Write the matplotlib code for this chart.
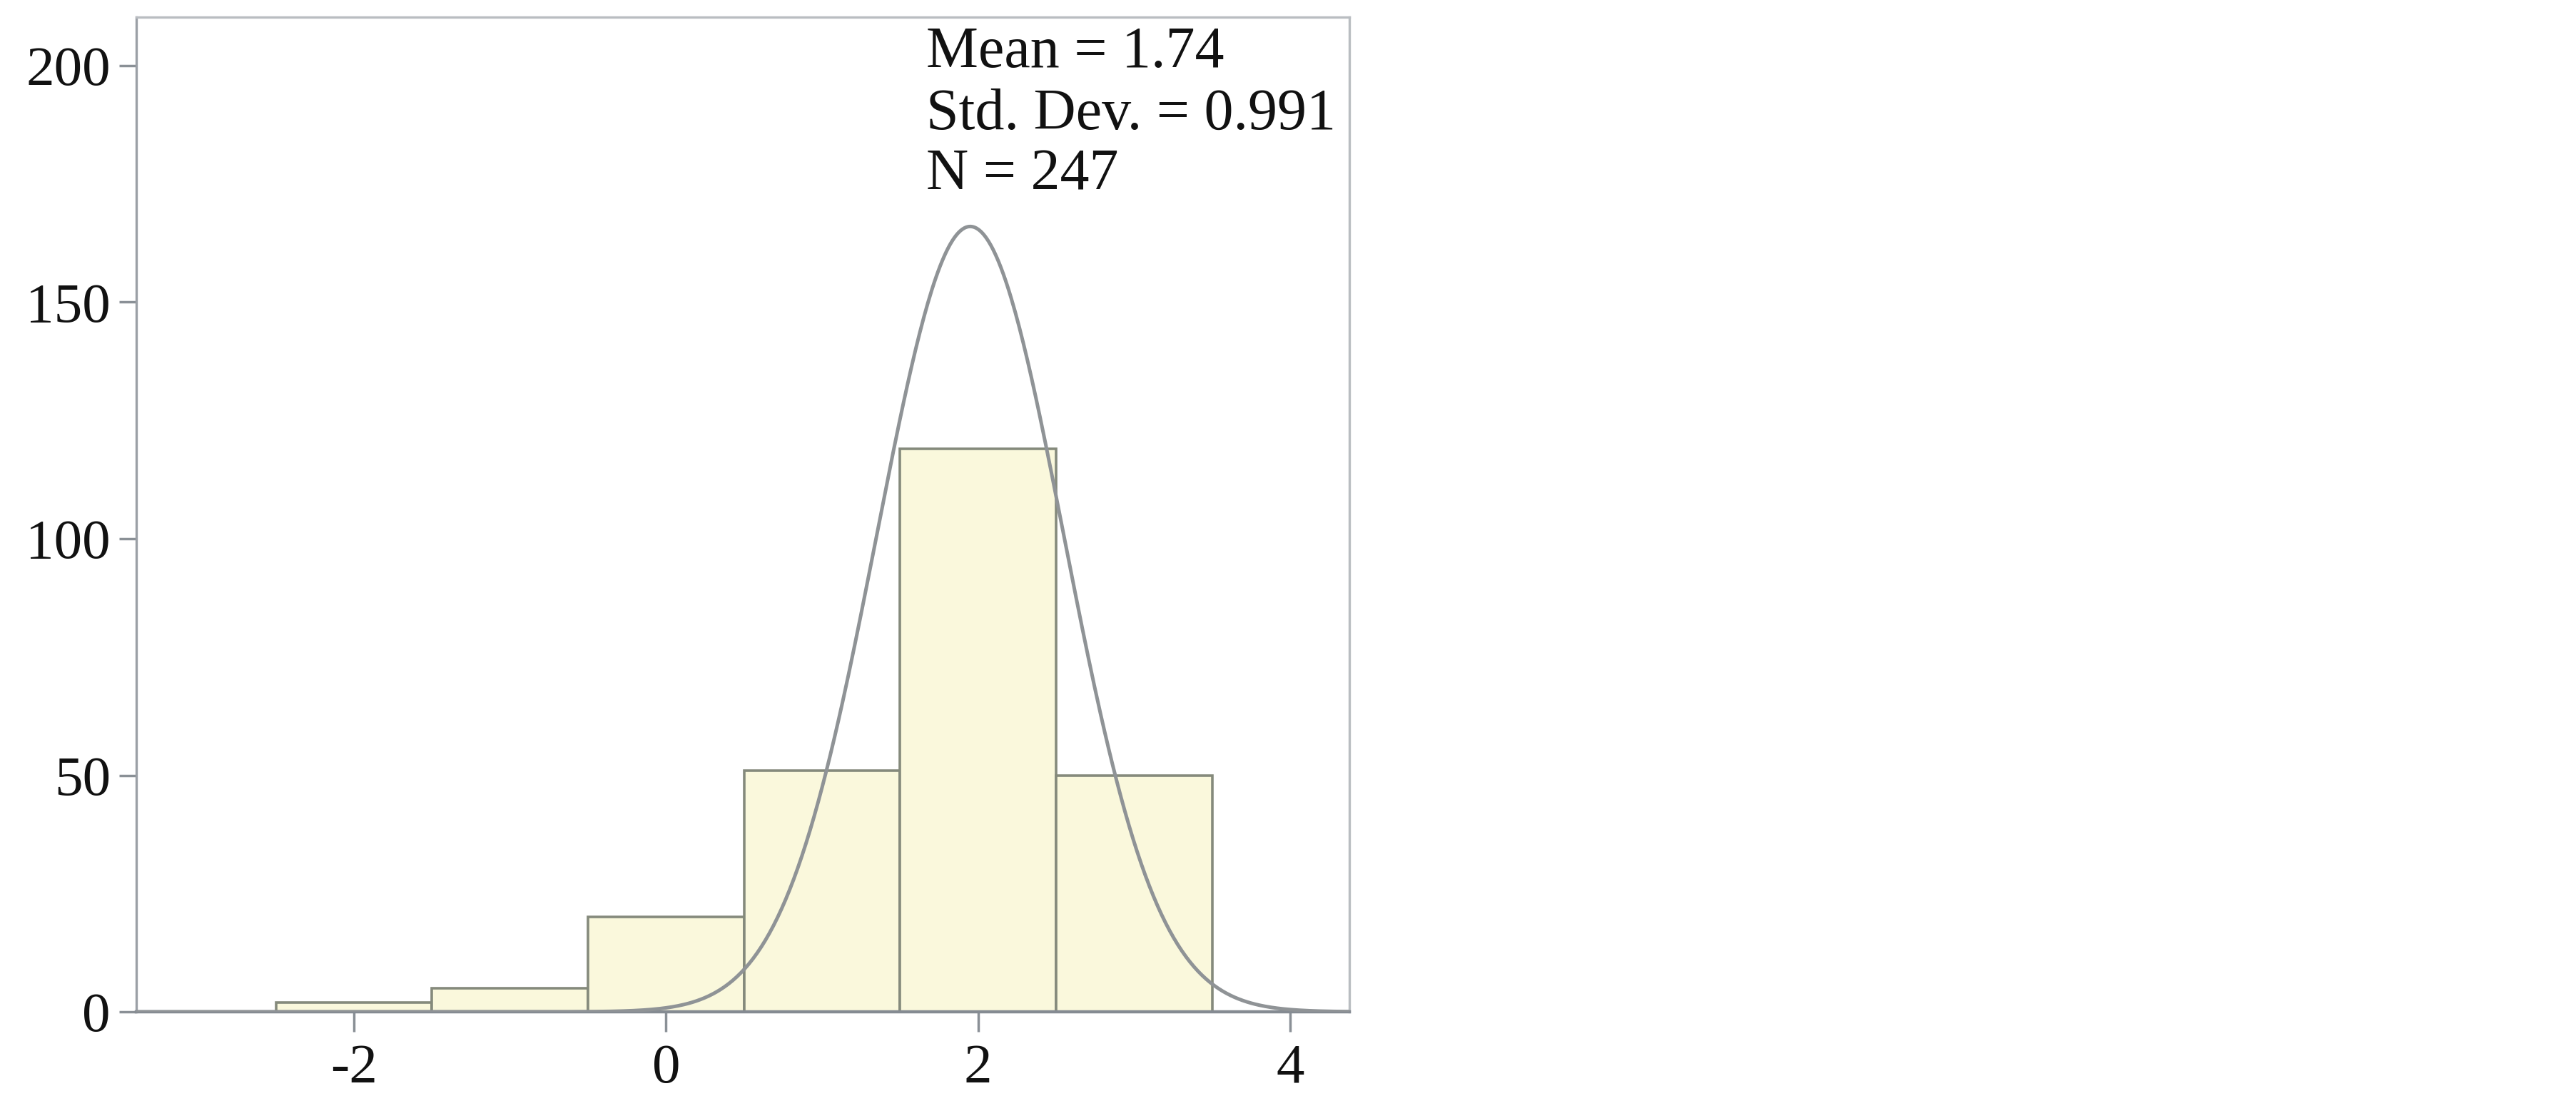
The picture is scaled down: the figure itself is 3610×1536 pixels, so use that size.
import numpy as np
import matplotlib
matplotlib.use("Agg")
import matplotlib.pyplot as plt

# histogram counts (bin centres, width 1) and the normal curve drawn over them
bin_centers = [-2, -1, 0, 1, 2, 3]
counts = [2, 5, 20, 51, 119, 50]
curve_mu = 1.95
curve_sigma = 0.60
curve_peak = 166

stats_lines = ["Mean = 1.74", "Std. Dev. = 0.991", "N = 247"]
stats_y = [199.7, 186.6, 173.9]

xticks = [-2, 0, 2, 4]
yticks = [0, 50, 100, 150, 200]

plt.rcParams['font.family'] = ['Liberation Serif', 'DejaVu Serif']

fig = plt.figure(figsize=(36.1, 15.36), dpi=100)
ax = fig.add_axes([0.0529, 0.0768, 0.4709, 0.9078])

ax.bar(bin_centers, counts, width=1.0, color='#faf8dc', edgecolor='#858a7c',
       linewidth=2.6, zorder=2)

xs = np.linspace(-3.4, 4.4, 600)
ys = curve_peak * np.exp(-0.5 * ((xs - curve_mu) / curve_sigma) ** 2)
ax.plot(xs, ys, color='#8f9396', linewidth=3.6, zorder=3)

for txt, y in zip(stats_lines, stats_y):
    ax.text(1.67, y, txt, fontsize=59, va='baseline', ha='left', color='#111111')

ax.set_xlim(-3.396, 4.38)
ax.set_ylim(0, 210.3)
ax.set_xticks(xticks)
ax.set_xticklabels([str(t) for t in xticks])
ax.set_yticks(yticks)

ax.tick_params(axis='both', labelsize=57, colors='#8a9096', labelcolor='#111111',
               width=2.5)
ax.tick_params(axis='x', length=20, pad=12)
ax.tick_params(axis='y', length=17, pad=9)

ax.spines['left'].set_color('#9ba0a6')
ax.spines['left'].set_linewidth(2.4)
ax.spines['bottom'].set_color('#858b92')
ax.spines['bottom'].set_linewidth(3.2)
ax.spines['top'].set_color('#b9bdc1')
ax.spines['top'].set_linewidth(2.4)
ax.spines['right'].set_color('#b9bdc1')
ax.spines['right'].set_linewidth(2.4)

plt.savefig("out.png", dpi=100)
